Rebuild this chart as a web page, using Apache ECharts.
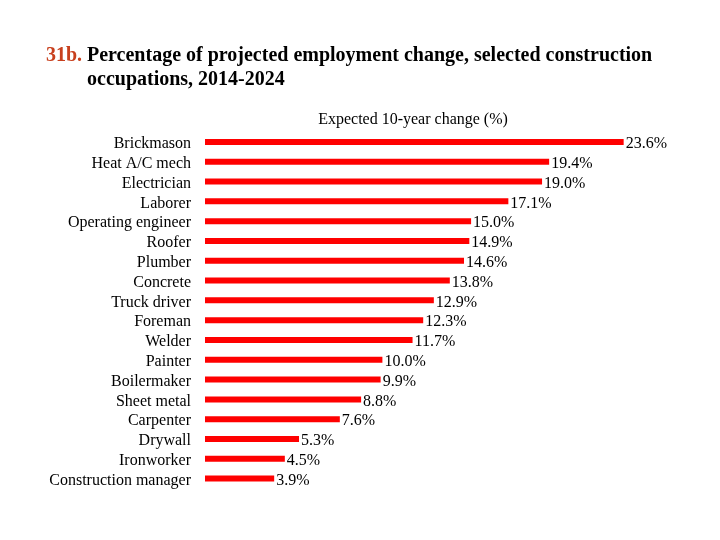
<!DOCTYPE html>
<html><head><meta charset="utf-8">
<script src="https://cdn.jsdelivr.net/npm/echarts@6/dist/echarts.min.js"></script>
<style>html,body{margin:0;padding:0;background:#fff}#c{width:720px;height:540px}</style>
</head><body><div id="c"></div>
<script>
const categories = ["Brickmason","Heat A/C mech","Electrician","Laborer","Operating engineer","Roofer","Plumber","Concrete","Truck driver","Foreman","Welder","Painter","Boilermaker","Sheet metal","Carpenter","Drywall","Ironworker","Construction manager"];
const values = [23.6,19.4,19.0,17.1,15.0,14.9,14.6,13.8,12.9,12.3,11.7,10.0,9.9,8.8,7.6,5.3,4.5,3.9];
const FONT = '"Liberation Serif","Times New Roman",serif';
const chart = echarts.init(document.getElementById('c'));
chart.setOption({
  animation:false,
  title:[
    {text:'31b.',left:46,top:44,padding:0,textStyle:{fontFamily:FONT,fontSize:20,fontWeight:'bold',color:'#C8401E',lineHeight:24}},
    {text:'Percentage of projected employment change, selected construction\noccupations, 2014-2024',left:87,top:44,padding:0,textStyle:{fontFamily:FONT,fontSize:20,fontWeight:'bold',color:'#000',lineHeight:24}},
    {text:'Expected 10-year change (%)',left:413,textAlign:'center',top:112,padding:0,textStyle:{fontFamily:FONT,fontSize:16,fontWeight:'normal',color:'#000'}}
  ],
  grid:{left:205,right:71.5,top:132,bottom:51.5,containLabel:false},
  xAxis:{type:'value',min:0,max:25,show:false},
  yAxis:{type:'category',data:categories,inverse:true,
    axisLine:{show:false},axisTick:{show:false},splitLine:{show:false},
    axisLabel:{interval:0,margin:14,fontFamily:FONT,fontSize:16,color:'#000',
      formatter:v=>'{a|'+v+'}',
      rich:{a:{fontFamily:FONT,fontSize:16,color:'#000',padding:[4,0,0,0]}}}},
  series:[{type:'bar',data:values,barWidth:6,itemStyle:{color:'#FF0000'},
    label:{show:true,position:'right',distance:2,offset:[0,2],fontFamily:FONT,fontSize:16,color:'#000',
      formatter:p=>p.value.toFixed(1)+'%'}}]
});
</script></body></html>
